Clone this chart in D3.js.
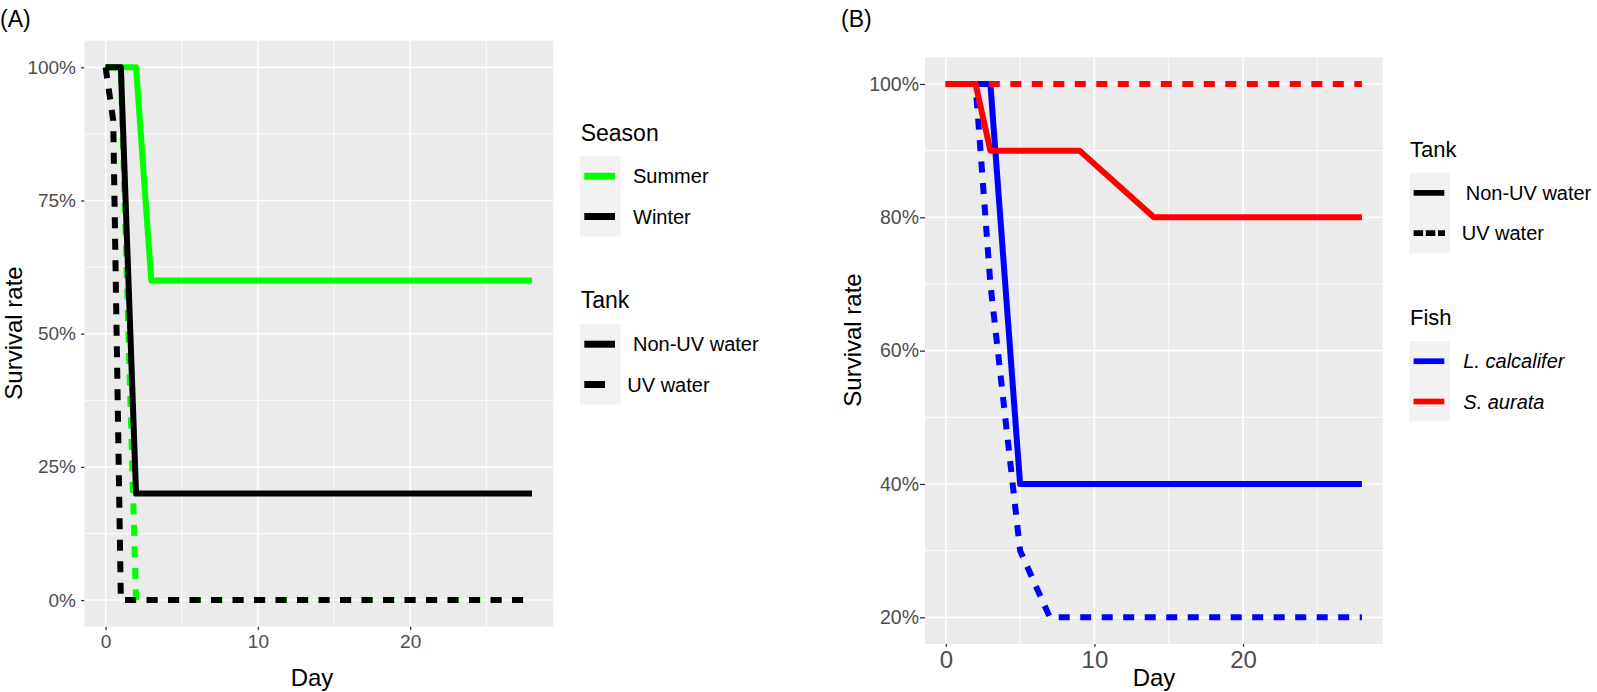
<!DOCTYPE html>
<html>
<head>
<meta charset="utf-8">
<script src="https://cdn.jsdelivr.net/npm/d3@7"></script>
<style>
  body { margin: 0; background: #fff; }
  svg text { font-family: "Liberation Sans", Arial, Helvetica, sans-serif; }
</style>
</head>
<body>
<svg id="chart" width="1597" height="692"></svg>
<script>
// ---- data ----
// panel A : season x tank
var daysSummerNonUV = [0, 1, 2, 3, 28];
var rateSummerNonUV = [1, 1, 1, 0.6, 0.6];
var daysSummerUV    = [0, 1, 2, 28];
var rateSummerUV    = [1, 1, 0, 0];
var daysWinterNonUV = [0, 1, 2, 28];
var rateWinterNonUV = [1, 1, 0.2, 0.2];
var daysWinterUV    = [0, 0.5, 1, 28];
var rateWinterUV    = [1, 0.9, 0, 0];

// panel B : fish x tank
var daysLcalNonUV = [0, 3, 5, 28];
var rateLcalNonUV = [1, 1, 0.4, 0.4];
var daysLcalUV    = [0, 2, 3, 4, 5, 7, 28];
var rateLcalUV    = [1, 1, 0.7, 0.5, 0.3, 0.2, 0.2];
var daysSaurNonUV = [0, 2, 3, 9, 14, 28];
var rateSaurNonUV = [1, 1, 0.9, 0.9, 0.8, 0.8];
var daysSaurUV    = [0, 28];
var rateSaurUV    = [1, 1];

// ticks
var xTicks = [0, 10, 20];
var xMinor = [5, 15, 25];
var yTicksA = [0, 0.25, 0.5, 0.75, 1];
var yMinorA = [0.125, 0.375, 0.625, 0.875];
var yTicksB = [0.2, 0.4, 0.6, 0.8, 1];
var yMinorB = [0.3, 0.5, 0.7, 0.9];

// legends
var seasonNames = ["Summer", "Winter"];
var seasonColors = ["#00ff00", "#000000"];
var tankNames = ["Non-UV water", "UV water"];
var fishNames = ["L. calcalifer", "S. aurata"];
var fishColors = ["#0000ff", "#ff0000"];

var DASH = "11,10.5";

function zip(xs, ys) {
    return xs.map(function (x, i) { return [x, ys[i]]; });
}

var svg = d3.select("#chart");

function drawPanel(p) {
    var x = d3.scaleLinear().domain([-1.4, 29.4]).range([p.left, p.right]);
    var y = d3.scaleLinear().domain(p.yDomain).range([p.bottom, p.top]);
    var g = svg.append("g");

    g.append("rect")
        .attr("x", p.left).attr("y", p.top)
        .attr("width", p.right - p.left).attr("height", p.bottom - p.top)
        .attr("fill", "#ebebeb");

    // minor grid
    g.selectAll(".hmin").data(p.yMinor).enter().append("line")
        .attr("x1", p.left).attr("x2", p.right)
        .attr("y1", d => y(d)).attr("y2", d => y(d))
        .attr("stroke", "#fff").attr("stroke-width", 0.9);
    g.selectAll(".vmin").data(xMinor).enter().append("line")
        .attr("y1", p.top).attr("y2", p.bottom)
        .attr("x1", d => x(d)).attr("x2", d => x(d))
        .attr("stroke", "#fff").attr("stroke-width", 0.9);
    // major grid
    g.selectAll(".hmaj").data(p.yTicks).enter().append("line")
        .attr("x1", p.left).attr("x2", p.right)
        .attr("y1", d => y(d)).attr("y2", d => y(d))
        .attr("stroke", "#fff").attr("stroke-width", 1.6);
    g.selectAll(".vmaj").data(xTicks).enter().append("line")
        .attr("y1", p.top).attr("y2", p.bottom)
        .attr("x1", d => x(d)).attr("x2", d => x(d))
        .attr("stroke", "#fff").attr("stroke-width", 1.6);

    // series
    var line = d3.line().x(d => x(d[0])).y(d => y(d[1]));
    p.series.forEach(function (s) {
        g.append("path")
            .attr("d", line(s.pts))
            .attr("fill", "none")
            .attr("stroke", s.color)
            .attr("stroke-width", 6)
            .attr("stroke-linejoin", "round")
            .attr("stroke-linecap", "butt")
            .attr("stroke-dasharray", s.dashed ? DASH : null);
    });

    // axes
    var ya = g.append("g").attr("transform", "translate(" + p.left + ",0)")
        .call(d3.axisLeft(y).tickValues(p.yTicks).tickFormat(d3.format(".0%"))
            .tickSize(p.yTickSize).tickPadding(p.yTickPad));
    var xa = g.append("g").attr("transform", "translate(0," + p.bottom + ")")
        .call(d3.axisBottom(x).tickValues(xTicks).tickFormat(d3.format("d"))
            .tickSize(p.xTickSize).tickPadding(p.xTickPad));
    [ya, xa].forEach(function (a) {
        a.select(".domain").remove();
        a.selectAll("line").attr("stroke", "#333").attr("stroke-width", 1.3);
        a.selectAll("text").attr("fill", "#4d4d4d").attr("font-family", null);
    });
    ya.selectAll("text").attr("font-size", p.yFont);
    xa.selectAll("text").attr("font-size", p.xFont);

    // titles
    g.append("text")
        .attr("transform", "translate(" + p.yTitleX + "," + p.yTitleY + ") rotate(-90)")
        .attr("text-anchor", "middle").attr("font-size", 24).text("Survival rate");
    g.append("text")
        .attr("x", p.xTitleX).attr("y", 686)
        .attr("text-anchor", "middle").attr("font-size", 24).text("Day");
    g.append("text")
        .attr("x", p.tagX).attr("y", 27)
        .attr("font-size", 23).text(p.tag);

    // legends
    p.legends.forEach(function (lg) {
        g.append("text").attr("x", lg.x).attr("y", lg.titleY)
            .attr("font-size", lg.titleFont).text(lg.title);
        g.append("rect")
            .attr("x", lg.x - 0.7).attr("y", lg.keyTop)
            .attr("width", 40.7).attr("height", 80.7)
            .attr("fill", "#f2f2f2");
        lg.names.forEach(function (name, i) {
            var cy = lg.keyTop + 20.2 + i * 40.3;
            g.append("line")
                .attr("x1", lg.x + 3.6).attr("x2", lg.dashed[i] ? lg.x + lg.dashEnd : lg.x + 34.3)
                .attr("y1", cy).attr("y2", cy)
                .attr("stroke", lg.colors[i]).attr("stroke-width", lg.keyWidth)
                .attr("stroke-dasharray", lg.dashed[i] ? lg.keyDash : null);
            g.append("text")
                .attr("x", lg.x + lg.labelDx[i]).attr("y", cy).attr("dy", "0.35em")
                .attr("font-size", 20)
                .attr("font-style", lg.italic ? "italic" : null)
                .text(name);
        });
    });
}

drawPanel({
    left: 84.3, right: 553.3, top: 40.7, bottom: 626.7,
    yDomain: [-0.05, 1.05], yTicks: yTicksA, yMinor: yMinorA,
    yTickSize: 3.3, yTickPad: 5, yFont: 19,
    xTickSize: 3.3, xTickPad: 4.3, xFont: 19,
    yTitleX: 22, yTitleY: 333, xTitleX: 312,
    tag: "(A)", tagX: 0,
    series: [
        { pts: zip(daysSummerNonUV, rateSummerNonUV), color: seasonColors[0], dashed: false },
        { pts: zip(daysSummerUV, rateSummerUV), color: seasonColors[0], dashed: true },
        { pts: zip(daysWinterNonUV, rateWinterNonUV), color: seasonColors[1], dashed: false },
        { pts: zip(daysWinterUV, rateWinterUV), color: seasonColors[1], dashed: true }
    ],
    legends: [
        { title: "Season", x: 580.7, titleY: 141, titleFont: 23, keyTop: 156,
          names: seasonNames, colors: seasonColors, dashed: [false, false],
          labelDx: [52.3, 52.3], keyWidth: 7 },
        { title: "Tank", x: 580.7, titleY: 308, titleFont: 23, keyTop: 324,
          names: tankNames, colors: ["#000", "#000"], dashed: [false, true],
          labelDx: [52.3, 46.6], keyWidth: 7, keyDash: "21,20", dashEnd: 24.3 }
    ]
});

drawPanel({
    left: 925, right: 1382.7, top: 57.3, bottom: 644,
    yDomain: [0.16, 1.04], yTicks: yTicksB, yMinor: yMinorB,
    yTickSize: 5, yTickPad: 1, yFont: 19.5,
    xTickSize: 2.7, xTickPad: 4, xFont: 24,
    yTitleX: 861, yTitleY: 340, xTitleX: 1154,
    tag: "(B)", tagX: 841,
    series: [
        { pts: zip(daysLcalNonUV, rateLcalNonUV), color: fishColors[0], dashed: false },
        { pts: zip(daysLcalUV, rateLcalUV), color: fishColors[0], dashed: true },
        { pts: zip(daysSaurNonUV, rateSaurNonUV), color: fishColors[1], dashed: false },
        { pts: zip(daysSaurUV, rateSaurUV), color: fishColors[1], dashed: true }
    ],
    legends: [
        { title: "Tank", x: 1410, titleY: 156.7, titleFont: 22, keyTop: 172.7,
          names: tankNames, colors: ["#000", "#000"], dashed: [false, true],
          labelDx: [55.7, 51.7], keyWidth: 5.7, keyDash: "9.5,2.7", dashEnd: 35 },
        { title: "Fish", x: 1410, titleY: 325, titleFont: 22, keyTop: 341,
          names: fishNames, colors: fishColors, dashed: [false, false],
          labelDx: [53.3, 53.3], keyWidth: 5.7, italic: true }
    ]
});
</script>
</body>
</html>
